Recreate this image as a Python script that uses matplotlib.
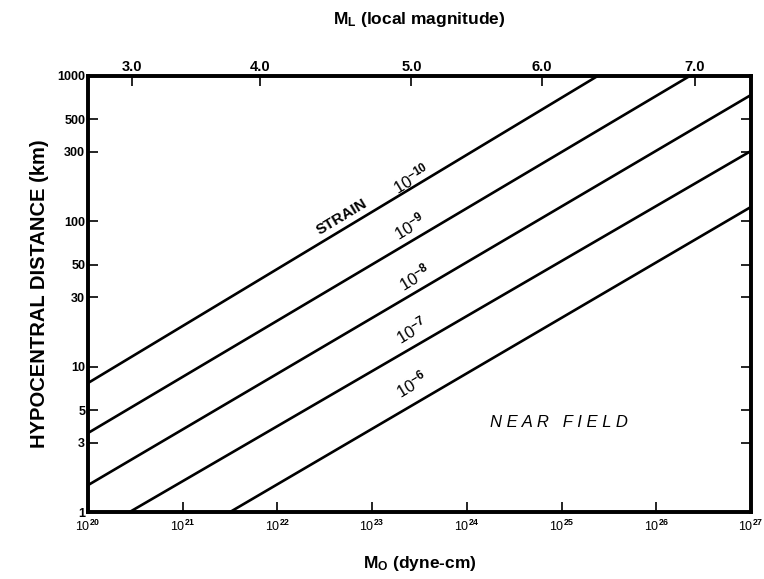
import matplotlib
matplotlib.use("Agg")
import matplotlib.pyplot as plt
from matplotlib.ticker import FixedLocator, NullLocator

# strain contours: start / end points
strain_labels = ["10$^{-10}$", "10$^{-9}$", "10$^{-8}$", "10$^{-7}$", "10$^{-6}$"]
mo_start = [1e20, 1e20, 1e20, 2.75e20, 3.16e21]
dist_start = [7.7, 3.49, 1.53, 1.0, 1.0]
mo_end = [2.45e25, 2.3e26, 1e27, 1e27, 1e27]
dist_end = [1000, 1000, 735, 303, 125]

# label anchor points (Mo, km)
label_mo = [2.6e23, 2.5e23, 2.8e23, 2.6e23, 2.6e23]
label_dist = [195, 92, 41, 17.8, 7.6]

y_ticks = [1, 3, 5, 10, 30, 50, 100, 300, 500, 1000]
x_ticks = [1e20, 1e21, 1e22, 1e23, 1e24, 1e25, 1e26, 1e27]
x_ticklabels = ["10$^{20}$", "10$^{21}$", "10$^{22}$", "10$^{23}$", "10$^{24}$",
                "10$^{25}$", "10$^{26}$", "10$^{27}$"]
ml_values = ["3.0", "4.0", "5.0", "6.0", "7.0"]
ml_mo = [2.9e20, 6.6e21, 2.6e23, 6.2e24, 2.55e26]

plt.rcParams["font.family"] = ["Liberation Sans", "DejaVu Sans"]
plt.rcParams["mathtext.fontset"] = "custom"
plt.rcParams["mathtext.rm"] = "Liberation Sans:bold"
plt.rcParams["mathtext.it"] = "Liberation Sans:italic:bold"

fig = plt.figure(figsize=(7.64, 5.79), dpi=100)
ax = fig.add_axes([0.1152, 0.1157, 0.8678, 0.7539])

for x0, y0, x1, y1 in zip(mo_start, dist_start, mo_end, dist_end):
    ax.plot([x0, x1], [y0, y1], color="black", lw=1.9, solid_capstyle="butt")

ax.set_xscale("log")
ax.set_yscale("log")
ax.set_xlim(1e20, 1e27)
ax.set_ylim(1, 1000)

ax.yaxis.set_major_locator(FixedLocator(y_ticks))
ax.set_yticklabels([str(v) for v in y_ticks], fontsize=9, fontweight="bold")
ax.yaxis.set_minor_locator(NullLocator())
ax.xaxis.set_major_locator(FixedLocator(x_ticks))
ax.set_xticklabels(x_ticklabels, fontsize=9)
ax.xaxis.set_minor_locator(NullLocator())
ax.tick_params(axis="both", direction="in", length=7, width=1.2, pad=2,
               right=True, colors="black")
ax.tick_params(axis="x", pad=5)
for s in ax.spines.values():
    s.set_linewidth(2.6)

ax.set_ylabel("HYPOCENTRAL DISTANCE (km)", fontsize=14.5, fontweight="bold",
              labelpad=6)
ax.set_xlabel("M$_\\mathregular{O}$ (dyne-cm)", fontsize=12.5, fontweight="bold",
              labelpad=14)

top = ax.twiny()
top.set_xscale("log")
top.set_xlim(ax.get_xlim())
top.xaxis.set_major_locator(FixedLocator(ml_mo))
top.set_xticklabels(ml_values, fontsize=10.5, fontweight="bold")
top.xaxis.set_minor_locator(NullLocator())
top.tick_params(axis="x", direction="in", length=7, width=1.2, pad=1)
for s in top.spines.values():
    s.set_linewidth(2.6)
top.set_xlabel("M$_\\mathregular{L}$ (local magnitude)", fontsize=12.5,
               fontweight="bold", labelpad=26)

for txt, xm, yd in zip(strain_labels, label_mo, label_dist):
    ax.text(xm, yd, txt, fontsize=12, rotation=31, ha="center", va="center",
            rotation_mode="anchor")
ax.text(4.8e22, 106, "STRAIN", fontsize=11, fontweight="bold", rotation=31,
        ha="center", va="center", rotation_mode="anchor")
ax.text(0.71, 0.206, "N E A R   F I E L D", transform=ax.transAxes, fontsize=12,
        style="italic", ha="center", va="center")

fig.savefig("out.png", dpi=100)
